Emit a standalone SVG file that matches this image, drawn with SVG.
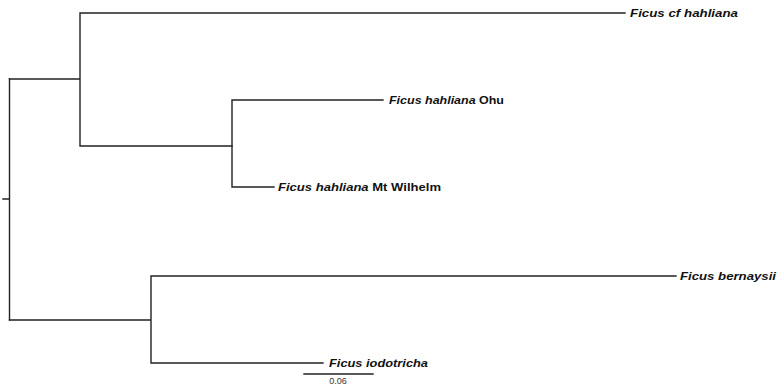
<svg xmlns="http://www.w3.org/2000/svg" width="777" height="386" viewBox="0 0 777 386">
<style>
.br{fill:none;stroke:#222;stroke-width:1.4;stroke-linecap:square}
.lb{font-family:"Liberation Sans",Arial,sans-serif;font-size:10px;font-weight:bold;font-style:italic;fill:#111}
.up{font-style:normal}
.sc{font-family:"Liberation Sans",Arial,sans-serif;font-size:9px;fill:#333}
</style>
<rect width="777" height="386" fill="#fff"/>
<g id="connectors">
<path class="br" d="M3,199H9.5M9.5,79V320"/>
<path class="br" d="M9.5,79H80M80,13V146M80,13H625M80,146H232"/>
<path class="br" d="M232,100V187M232,100H383M232,187H274"/>
<path class="br" d="M9.5,320H151M151,276V363M151,276H676M151,363H323"/>
</g>
<g id="node-cf-hahliana"><text class="lb" x="630" y="17" textLength="108" lengthAdjust="spacingAndGlyphs">Ficus cf hahliana</text></g>
<g id="node-ohu"><text class="lb" x="389" y="104" textLength="115" lengthAdjust="spacingAndGlyphs">Ficus hahliana <tspan class="up">Ohu</tspan></text></g>
<g id="node-mt-wilhelm"><text class="lb" x="278" y="191" textLength="163" lengthAdjust="spacingAndGlyphs">Ficus hahliana <tspan class="up">Mt Wilhelm</tspan></text></g>
<g id="node-bernaysii"><text class="lb" x="680" y="280" textLength="96" lengthAdjust="spacingAndGlyphs">Ficus bernaysii</text></g>
<g id="node-iodotricha"><text class="lb" x="329" y="367" textLength="99" lengthAdjust="spacingAndGlyphs">Ficus iodotricha</text></g>
<g id="scale-bar">
<path class="br" d="M304,374H373"/>
<text class="sc" x="338" y="384" text-anchor="middle">0.06</text>
</g>
</svg>
